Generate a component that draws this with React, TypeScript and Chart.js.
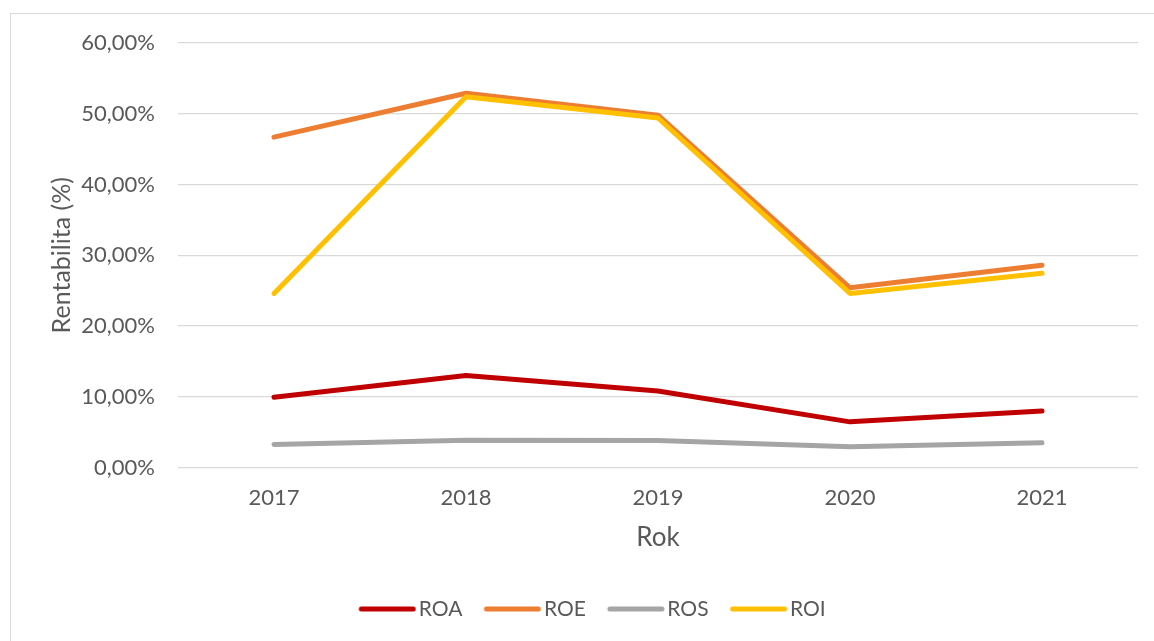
import React, { useEffect, useRef } from 'react';
import { Chart, registerables } from 'chart.js';

Chart.register(...registerables);

const categories = ['2017', '2018', '2019', '2020', '2021'];
const roa = [9.94, 13.0, 10.8, 6.45, 8.0];
const roe = [46.7, 52.9, 49.8, 25.4, 28.6];
const ros = [3.25, 3.85, 3.8, 2.95, 3.5];
const roi = [24.6, 52.4, 49.4, 24.6, 27.45];
const seriesNames = ['ROA', 'ROE', 'ROS', 'ROI'];
const seriesColors = ['#C00000', '#ED7D31', '#A5A5A5', '#FFC000'];
const yTitle = 'Rentabilita (%)';
const xTitle = 'Rok';

const FONT = 'Lato, "Open Sans", sans-serif';
const TEXT = '#595959';

function legendLine(color: string): HTMLCanvasElement {
  const c = document.createElement('canvas');
  c.width = 72;
  c.height = 8;
  const g = c.getContext('2d') as CanvasRenderingContext2D;
  g.strokeStyle = color;
  g.lineWidth = 5;
  g.lineCap = 'round';
  g.beginPath();
  g.moveTo(17, 4);
  g.lineTo(69, 4);
  g.stroke();
  return c;
}

export default function App() {
  const ref = useRef<HTMLCanvasElement>(null);

  useEffect(() => {
    const values = [roa, roe, ros, roi];
    const drawOrder = [3, 2, 1, 0];
    const chart = new Chart(ref.current as HTMLCanvasElement, {
      type: 'line',
      data: {
        labels: categories,
        datasets: seriesNames.map((name, i) => ({
          label: name,
          data: values[i],
          borderColor: seriesColors[i],
          backgroundColor: seriesColors[i],
          borderWidth: 5,
          pointRadius: 0,
          pointHoverRadius: 0,
          pointStyle: legendLine(seriesColors[i]),
          tension: 0,
          borderCapStyle: 'round',
          borderJoinStyle: 'round',
          order: drawOrder[i],
        })),
      },
      options: {
        responsive: false,
        animation: false,
        devicePixelRatio: 1,
        layout: { padding: { left: 40, right: 16, top: 43, bottom: 11.5 } },
        plugins: {
          tooltip: { enabled: false },
          legend: {
            position: 'bottom',
            labels: {
              usePointStyle: true,
              pointStyleWidth: 56,
              color: TEXT,
              font: { family: FONT, size: 21 },
              padding: 15,
              sort: (a: any, b: any) => a.datasetIndex - b.datasetIndex,
            },
          },
        },
        scales: {
          x: {
            offset: true,
            grid: { display: false, drawTicks: false },
            border: { display: false },
            ticks: { color: TEXT, font: { family: FONT, size: 22 }, padding: 17 },
            title: {
              display: true,
              text: xTitle,
              color: TEXT,
              font: { family: FONT, size: 26 },
              padding: { top: 4, bottom: 30 },
            },
            afterFit: (scale: any) => {
              scale.height = 116;
            },
          },
          y: {
            min: 0,
            max: 60,
            grid: { color: '#D9D9D9', lineWidth: 1.3, drawTicks: false },
            border: { display: false },
            ticks: {
              stepSize: 10,
              color: TEXT,
              font: { family: FONT, size: 22 },
              padding: 23,
              callback: (v: any) => Number(v).toFixed(2).replace('.', ',') + '%',
            },
            title: {
              display: true,
              text: yTitle,
              color: TEXT,
              font: { family: FONT, size: 25 },
              padding: { top: 7, bottom: 0 },
            },
            afterFit: (scale: any) => {
              scale.width = 138;
            },
          },
        },
      },
    });
    return () => chart.destroy();
  }, []);

  return (
    <div style={{ position: 'fixed', inset: 0, overflow: 'hidden', background: '#fff' }}>
      <div
        style={{
          position: 'absolute',
          left: 10,
          top: 13,
          width: 1300,
          height: 800,
          border: '1px solid #D9D9D9',
        }}
      />
      <canvas
        ref={ref}
        width={1154}
        height={641}
        style={{ position: 'absolute', left: 0, top: 0, width: 1154, height: 641 }}
      />
    </div>
  );
}
